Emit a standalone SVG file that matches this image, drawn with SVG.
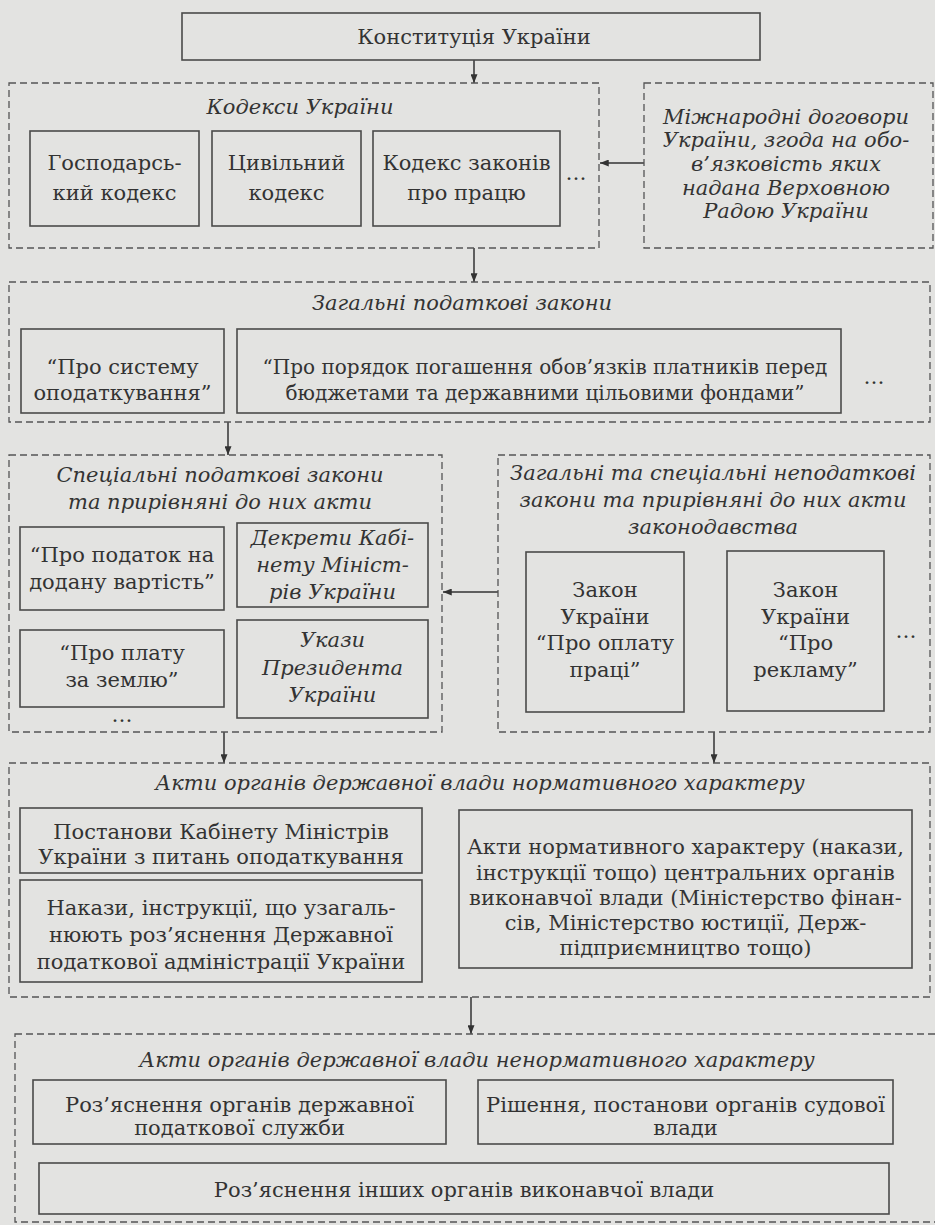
<svg xmlns="http://www.w3.org/2000/svg" width="935" height="1225" viewBox="0 0 935 1225">
<defs>
<marker id="ah" viewBox="0 0 10 8" refX="10" refY="4" markerWidth="9" markerHeight="7" markerUnits="userSpaceOnUse" orient="auto">
<path d="M0,0 L10,4 L0,8 z" fill="#333"/>
</marker>
<style>
.t{font-family:"DejaVu Serif","Liberation Serif",serif;font-size:21px;fill:#333;text-anchor:middle}
.i{font-style:italic}
.s{font-size:20px}
.b{fill:none;stroke:#4a4a4a;stroke-width:1.6}
.d{fill:none;stroke:#555;stroke-width:1.3;stroke-dasharray:7 4}
.c{fill:none;stroke:#333;stroke-width:1.5;marker-end:url(#ah)}
</style>
</defs>
<rect width="935" height="1225" fill="#e3e3e1"/>

<g id="connectors">
<line class="c" x1="474" y1="60" x2="474" y2="83"/>
<line class="c" x1="644" y1="163" x2="600" y2="163"/>
<line class="c" x1="474" y1="248" x2="474" y2="282"/>
<line class="c" x1="228" y1="422" x2="228" y2="455"/>
<line class="c" x1="498" y1="592" x2="443" y2="592"/>
<line class="c" x1="224" y1="732" x2="224" y2="763"/>
<line class="c" x1="714" y1="732" x2="714" y2="763"/>
<line class="c" x1="471" y1="997" x2="471" y2="1034"/>
</g>

<g id="constitution">
<rect class="b" x="182" y="13" width="578" height="47"/>
<text class="t" x="474" y="44">Конституція України</text>
</g>

<g id="codes">
<rect class="d" x="9" y="83" width="590" height="165"/>
<text class="t i" x="300" y="114">Кодекси України</text>
<text class="t" x="576" y="180">…</text>
</g>
<g id="code-gosp">
<rect class="b" x="30" y="131" width="169" height="95"/>
<text class="t" x="114.5" y="170">Господарсь-</text>
<text class="t" x="114.5" y="200">кий кодекс</text>
</g>
<g id="code-civil">
<rect class="b" x="212" y="131" width="149" height="95"/>
<text class="t" x="286.5" y="170">Цивільний</text>
<text class="t" x="286.5" y="200">кодекс</text>
</g>
<g id="code-labour">
<rect class="b" x="373" y="131" width="187" height="95"/>
<text class="t" x="466.5" y="170">Кодекс законів</text>
<text class="t" x="466.5" y="200">про працю</text>
</g>

<g id="intl">
<rect class="d" x="644" y="83" width="289" height="165"/>
<text class="t i" x="786" y="124">Міжнародні договори</text>
<text class="t i" x="786" y="147">України, згода на обо-</text>
<text class="t i" x="786" y="171">в’язковість яких</text>
<text class="t i" x="786" y="195">надана Верховною</text>
<text class="t i" x="786" y="218">Радою України</text>
</g>

<g id="general-tax">
<rect class="d" x="9" y="282" width="921" height="140"/>
<text class="t i" x="462" y="310">Загальні податкові закони</text>
<text class="t" x="874" y="384">…</text>
</g>
<g id="tax-system">
<rect class="b" x="21" y="329" width="203" height="84"/>
<text class="t" x="122.5" y="374">“Про систему</text>
<text class="t" x="122.5" y="400">оподаткування”</text>
</g>
<g id="tax-order">
<rect class="b" x="237" y="329" width="604" height="84"/>
<text class="t s" x="545" y="374">“Про порядок погашення обов’язків платників перед</text>
<text class="t s" x="545" y="400">бюджетами та державними цільовими фондами”</text>
</g>

<g id="special-tax">
<rect class="d" x="9" y="455" width="433" height="277"/>
<text class="t i" x="220" y="482">Спеціальні податкові закони</text>
<text class="t i" x="220" y="509">та прирівняні до них акти</text>
<text class="t" x="122" y="722">…</text>
</g>
<g id="vat">
<rect class="b" x="20" y="527" width="204" height="83"/>
<text class="t" x="122" y="562">“Про податок на</text>
<text class="t" x="122" y="589">додану вартість”</text>
</g>
<g id="decrees">
<rect class="b" x="237" y="523" width="191" height="84"/>
<text class="t i" x="332.5" y="545">Декрети Кабі-</text>
<text class="t i" x="332.5" y="572">нету Мініст-</text>
<text class="t i" x="332.5" y="599">рів України</text>
</g>
<g id="land">
<rect class="b" x="20" y="630" width="204" height="77"/>
<text class="t" x="122" y="660">“Про плату</text>
<text class="t" x="122" y="687">за землю”</text>
</g>
<g id="edicts">
<rect class="b" x="237" y="620" width="191" height="98"/>
<text class="t i" x="332.5" y="647">Укази</text>
<text class="t i" x="332.5" y="675">Президента</text>
<text class="t i" x="332.5" y="702">України</text>
</g>

<g id="nontax">
<rect class="d" x="498" y="455" width="432" height="277"/>
<text class="t i" x="713" y="480">Загальні та спеціальні неподаткові</text>
<text class="t i" x="713" y="507">закони та прирівняні до них акти</text>
<text class="t i" x="713" y="534">законодавства</text>
<text class="t" x="906" y="638">…</text>
</g>
<g id="law-pay">
<rect class="b" x="526" y="552" width="158" height="160"/>
<text class="t" x="605" y="597">Закон</text>
<text class="t" x="605" y="624">України</text>
<text class="t" x="605" y="650">“Про оплату</text>
<text class="t" x="605" y="677">праці”</text>
</g>
<g id="law-ads">
<rect class="b" x="727" y="551" width="157" height="160"/>
<text class="t" x="805.5" y="597">Закон</text>
<text class="t" x="805.5" y="624">України</text>
<text class="t" x="805.5" y="650">“Про</text>
<text class="t" x="805.5" y="677">рекламу”</text>
</g>

<g id="normative">
<rect class="d" x="9" y="763" width="921" height="234"/>
<text class="t i" x="480" y="790">Акти органів державної влади нормативного характеру</text>
</g>
<g id="cabmin">
<rect class="b" x="20" y="808" width="402" height="65"/>
<text class="t" x="221" y="839">Постанови Кабінету Міністрів</text>
<text class="t" x="221" y="864">України з питань оподаткування</text>
</g>
<g id="dpa">
<rect class="b" x="20" y="880" width="402" height="102"/>
<text class="t" x="221" y="915">Накази, інструкції, що узагаль-</text>
<text class="t" x="221" y="942">нюють роз’яснення Державної</text>
<text class="t" x="221" y="969">податкової адміністрації України</text>
</g>
<g id="central">
<rect class="b" x="459" y="810" width="453" height="158"/>
<text class="t" x="685.5" y="854">Акти нормативного характеру (накази,</text>
<text class="t" x="685.5" y="880">інструкції тощо) центральних органів</text>
<text class="t" x="685.5" y="905">виконавчої влади (Міністерство фінан-</text>
<text class="t" x="685.5" y="930">сів, Міністерство юстиції, Держ-</text>
<text class="t" x="685.5" y="955">підприємництво тощо)</text>
</g>

<g id="nonnormative">
<rect class="d" x="15" y="1034" width="930" height="188"/>
<text class="t i" x="477" y="1067">Акти органів державної влади ненормативного характеру</text>
</g>
<g id="dps">
<rect class="b" x="33" y="1080" width="413" height="64"/>
<text class="t" x="239.5" y="1112">Роз’яснення органів державної</text>
<text class="t" x="239.5" y="1135">податкової служби</text>
</g>
<g id="courts">
<rect class="b" x="478" y="1080" width="415" height="64"/>
<text class="t" x="685.5" y="1112">Рішення, постанови органів судової</text>
<text class="t" x="685.5" y="1135">влади</text>
</g>
<g id="other-exec">
<rect class="b" x="39" y="1163" width="850" height="51"/>
<text class="t" x="464" y="1197">Роз’яснення інших органів виконавчої влади</text>
</g>
</svg>
